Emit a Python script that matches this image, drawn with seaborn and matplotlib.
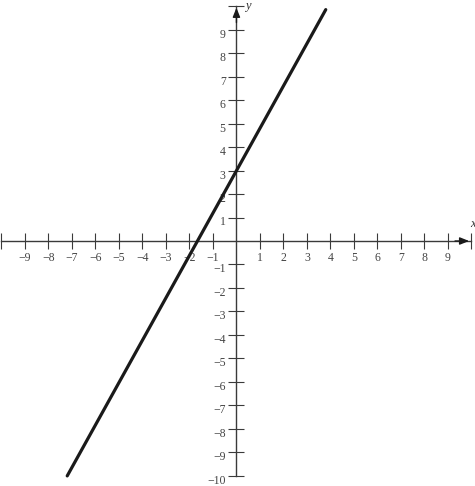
import matplotlib
matplotlib.use("Agg")
import matplotlib.pyplot as plt
import matplotlib.transforms as mtransforms
import seaborn as sns
import pandas as pd

# ---- data ----
line_x = [-7.2, 3.8]
line_y = [-10.0, 9.85]
x_ticks = [-10, -9, -8, -7, -6, -5, -4, -3, -2, -1, 1, 2, 3, 4, 5, 6, 7, 8, 9, 10]
x_tick_labels = ["", "−9", "−8", "−7", "−6", "−5", "−4", "−3", "−2", "−1",
                 "1", "2", "3", "4", "5", "6", "7", "8", "9", ""]
y_ticks = [-10, -9, -8, -7, -6, -5, -4, -3, -2, -1, 1, 2, 3, 4, 5, 6, 7, 8, 9, 10]
y_tick_labels = ["−10", "−9", "−8", "−7", "−6", "−5", "−4", "−3", "−2", "−1",
                 "1", "2", "3", "4", "5", "6", "7", "8", "9", ""]

sns.set_style("white")
plt.rcParams["font.family"] = ["Liberation Serif", "DejaVu Serif"]

fig = plt.figure(figsize=(4.75, 4.86), dpi=100)
ax = fig.add_axes([0, 0, 1, 1])
ax.set_xlim(-10.06, 10.15)
ax.set_ylim(-10.43, 10.26)

axis_color = "#3a3a3a"
for side in ["top", "right"]:
    ax.spines[side].set_visible(False)
ax.spines["left"].set_position(("data", 0))
ax.spines["bottom"].set_position(("data", 0))
ax.spines["left"].set_bounds(-10, 10)
ax.spines["bottom"].set_bounds(-10, 10)
for side in ["left", "bottom"]:
    ax.spines[side].set_color(axis_color)
    ax.spines[side].set_linewidth(1.0)
    ax.spines[side].set_zorder(1)

ax.set_xticks(x_ticks)
ax.set_xticklabels(x_tick_labels)
ax.set_yticks(y_ticks)
ax.set_yticklabels(y_tick_labels)
ax.tick_params(axis="both", which="major", bottom=True, left=True,
               direction="inout", length=11.5, width=0.8,
               color=axis_color, labelsize=8.5, labelcolor="#444444")
ax.tick_params(axis="x", pad=2.5)
ax.tick_params(axis="y", pad=2)
ax.grid(False)

# nudge y tick labels slightly down, as in the reference
offset = mtransforms.ScaledTranslation(0, -2.5 / 72, fig.dpi_scale_trans)
for lbl in ax.get_yticklabels():
    lbl.set_transform(lbl.get_transform() + offset)

df = pd.DataFrame({"x": line_x, "y": line_y})
sns.lineplot(data=df, x="x", y="y", ax=ax, color="#1a1a1a", linewidth=2.3,
             zorder=5, sort=False)
ax.set_xlabel("")
ax.set_ylabel("")

# arrowheads
ax.annotate("", xy=(9.9, 0), xytext=(9.3, 0),
            arrowprops=dict(arrowstyle="-|>,head_length=0.55,head_width=0.22",
                            color="#1a1a1a", lw=1.0, shrinkA=0, shrinkB=0))
ax.annotate("", xy=(0, 9.93), xytext=(0, 9.3),
            arrowprops=dict(arrowstyle="-|>,head_length=0.55,head_width=0.22",
                            color="#1a1a1a", lw=1.0, shrinkA=0, shrinkB=0))

ax.text(10.07, 0.45, "x", fontsize=9, style="italic", ha="center", va="bottom",
        color="#333333")
ax.text(0.38, 10.02, "y", fontsize=9, style="italic", ha="left", va="center",
        color="#333333")

fig.savefig("out.png", dpi=100)
